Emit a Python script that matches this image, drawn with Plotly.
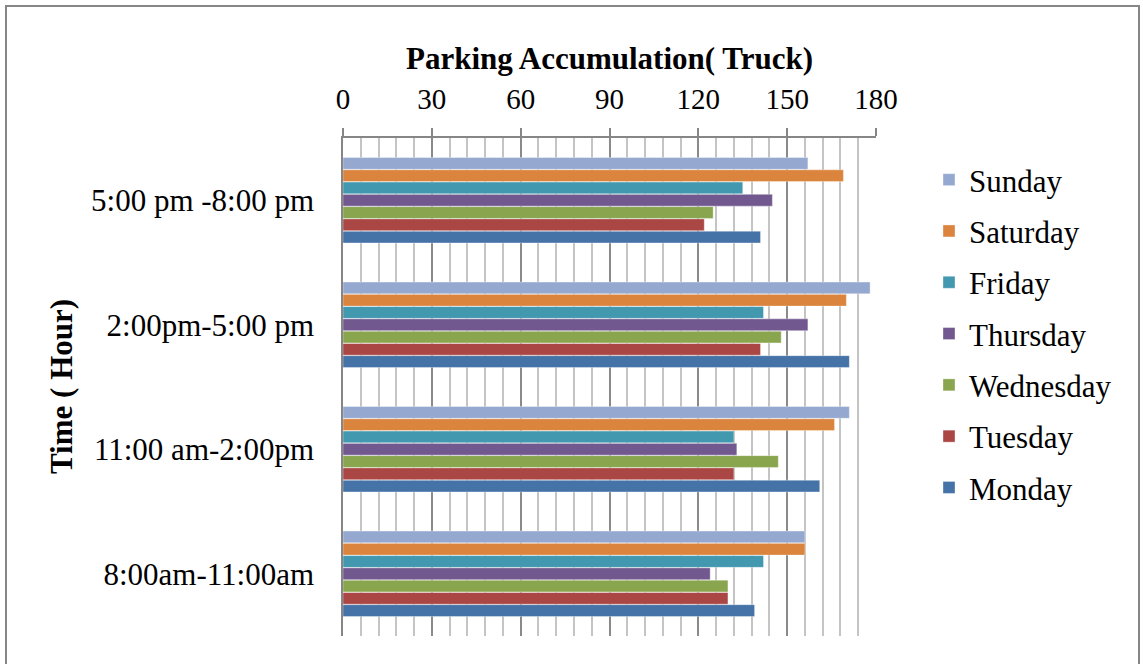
import plotly.graph_objects as go

# Time slots (bottom to top) and parking accumulation per weekday
time_slots = ["8:00am-11:00am", "11:00 am-2:00pm", "2:00pm-5:00 pm", "5:00 pm -8:00 pm"]
monday = [139, 161, 171, 141]
tuesday = [130, 132, 141, 122]
wednesday = [130, 147, 148, 125]
thursday = [124, 133, 157, 145]
friday = [142, 132, 142, 135]
saturday = [156, 166, 170, 169]
sunday = [156, 171, 178, 157]

days = ["Monday", "Tuesday", "Wednesday", "Thursday", "Friday", "Saturday", "Sunday"]
values = [monday, tuesday, wednesday, thursday, friday, saturday, sunday]
colors = ["#4572A7", "#AA4643", "#89A54E", "#71588F", "#4198AF", "#DB843D", "#95A9D0"]

FONT = "Liberation Serif, Times New Roman, serif"
W, H = 1143, 664
ML, MR, MT, MB = 343, 267, 138, 28

fig = go.Figure()
for i, (name, vals, col) in enumerate(zip(days, values, colors)):
    fig.add_trace(go.Bar(
        y=time_slots, x=vals, name=name, orientation="h",
        marker=dict(color=col, line=dict(color="rgba(255,255,255,0.6)", width=0.6)),
        legendgroup=name, legendrank=len(days) - i,
    ))

pw = W - ML - MR
ph = H - MT - MB

fig.update_layout(
    width=W, height=H,
    margin=dict(l=ML, r=MR, t=MT, b=MB, autoexpand=False),
    paper_bgcolor="white", plot_bgcolor="white",
    barmode="group", bargap=0.31, bargroupgap=0.04,
    font=dict(family=FONT, size=31, color="black"),
    showlegend=True,
    legend=dict(
        x=(929 - ML) / pw, y=1 - (153 - MT) / ph, xanchor="left", yanchor="top",
        traceorder="grouped", tracegroupgap=8,
        font=dict(family=FONT, size=31, color="black"),
        itemwidth=30, bgcolor="rgba(0,0,0,0)",
    ),
    xaxis=dict(
        side="top", range=[0, 180], dtick=30, tick0=0,
        showline=True, linecolor="#868686", linewidth=1.5,
        ticks="outside", ticklen=8, tickcolor="#868686", tickwidth=1.5,
        ticklabelstandoff=8,
        showgrid=True, gridcolor="#8a8a8a", gridwidth=1.5,
        minor=dict(dtick=6, showgrid=True, gridcolor="#c4c4c4", gridwidth=1.5, ticks=""),
        tickfont=dict(family=FONT, size=29),
        zeroline=False,
        title=dict(text="<b>Parking Accumulation( Truck)</b>", font=dict(family=FONT, size=31), standoff=4),
    ),
    yaxis=dict(
        categoryorder="array", categoryarray=time_slots,
        showline=True, linecolor="#868686", linewidth=1.5,
        ticks="outside", ticklen=0, tickcolor="rgba(0,0,0,0)",
        ticklabelstandoff=21,
        tickfont=dict(family=FONT, size=31),
        showgrid=False,
    ),
    annotations=[dict(
        text="<b>Time ( Hour)</b>", textangle=-90, showarrow=False,
        xref="paper", yref="paper", x=(61 - ML) / pw, y=1 - (387 - MT) / ph,
        xanchor="center", yanchor="middle", font=dict(family=FONT, size=31),
    )],
    shapes=[dict(
        type="rect", xref="paper", yref="paper",
        x0=(6 - ML) / pw, x1=(1139 - ML) / pw,
        y0=1 - (668 - MT) / ph, y1=1 - (6 - MT) / ph,
        line=dict(color="#868686", width=2), fillcolor="rgba(0,0,0,0)", layer="below",
    )],
)

fig.write_html("out.html")
